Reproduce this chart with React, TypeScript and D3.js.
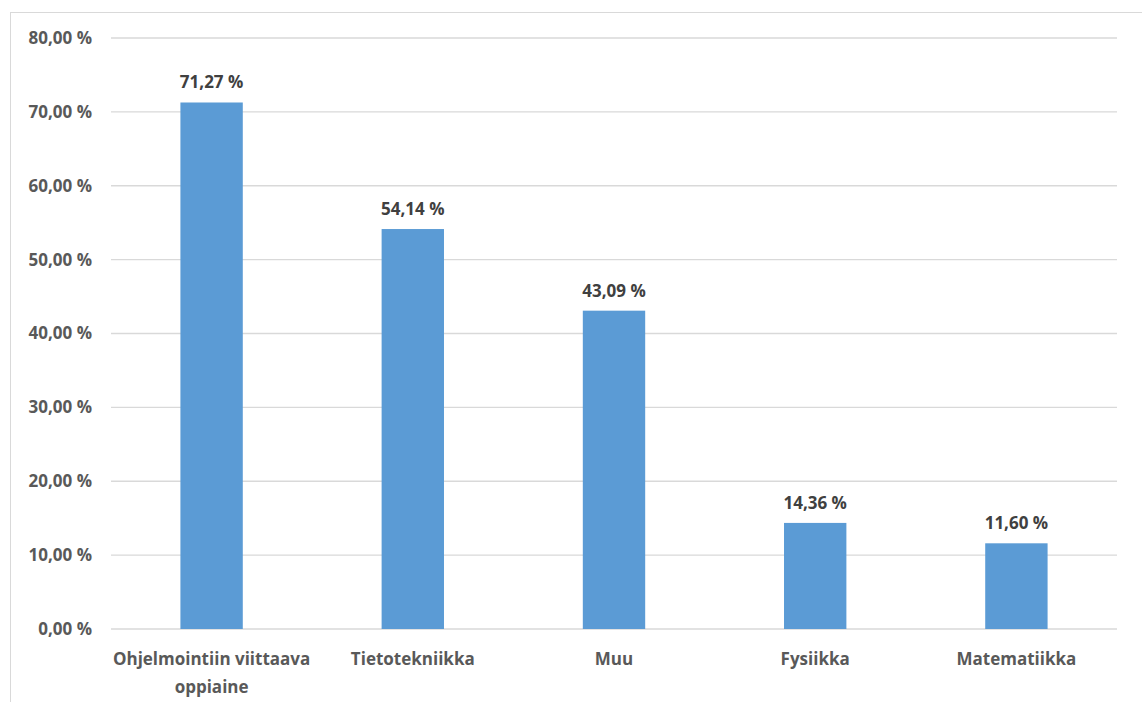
import React from "react";
import * as d3 from "d3";

const categories = ["Ohjelmointiin viittaava oppiaine", "Tietotekniikka", "Muu", "Fysiikka", "Matematiikka"];
const values = [71.27, 54.14, 43.09, 14.36, 11.6];
const yTicks = [0, 10, 20, 30, 40, 50, 60, 70, 80];

const W = 1142;
const H = 702;
const margin = { left: 111, right: 25, top: 38, bottom: 73 };

const fmt = (v: number) => v.toFixed(2).replace(".", ",") + " %";

function wrapLines(label: string): string[] {
  if (label === "Ohjelmointiin viittaava oppiaine") return ["Ohjelmointiin viittaava", "oppiaine"];
  return [label];
}

export default function App() {
  const x = d3.scaleBand<string>().domain(categories).range([margin.left, W - margin.right]).paddingInner(0.69).paddingOuter(0.345);
  const y = d3.scaleLinear().domain([0, 80]).range([H - margin.bottom, margin.top]);
  const font = "'Open Sans', 'Noto Sans', sans-serif";
  const fs = 17;
  return (
    <svg width={W} height={H} style={{ position: "absolute", left: 0, top: 0 }}>
      <rect x={0} y={0} width={W} height={H} fill="#fff" />
      <rect x={10.5} y={12.5} width={W + 20} height={H + 20} fill="none" stroke="#d9d9d9" strokeWidth={1} />
      {yTicks.map((t) => (
        <g key={t}>
          <line x1={margin.left} x2={W - margin.right} y1={y(t)} y2={y(t)} stroke="#d9d9d9" strokeWidth={1.3} />
          <text x={92} y={y(t)} dy="0.35em" textAnchor="end" fontFamily={font} fontWeight={700} fontSize={fs} fill="#595959">
            {fmt(t)}
          </text>
        </g>
      ))}
      {categories.map((c, i) => (
        <g key={c}>
          <rect x={x(c)!} y={y(values[i])} width={x.bandwidth()} height={y(0) - y(values[i])} fill="#5b9bd5" />
          <text x={x(c)! + x.bandwidth() / 2} y={y(values[i]) - 14} textAnchor="middle" fontFamily={font} fontWeight={700} fontSize={fs} fill="#404040">
            {fmt(values[i])}
          </text>
          {wrapLines(c).map((ln, j) => (
            <text key={j} x={x(c)! + x.bandwidth() / 2} y={665 + j * 28} textAnchor="middle" fontFamily={font} fontWeight={700} fontSize={fs} fill="#595959">
              {ln}
            </text>
          ))}
        </g>
      ))}
    </svg>
  );
}
